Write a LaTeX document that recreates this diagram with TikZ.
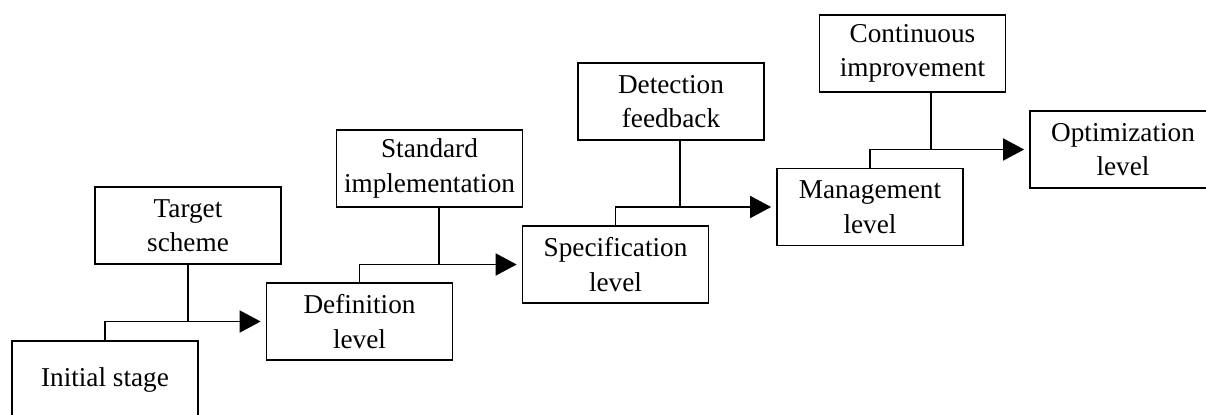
\documentclass[tikz,border=0pt]{standalone}
\usepackage{fontspec}
\setmainfont{Liberation Serif}
\usetikzlibrary{arrows.meta}
\tikzset{
  stagebox/.style={draw, line width=1pt, minimum width=3.72cm, minimum height=1.54cm, inner sep=0pt, align=center},
  stageline/.style={line width=1pt},
  stagearrow/.style={line width=1pt, -{Triangle[length=0.42cm,width=0.44cm]}, shorten >=0.1cm}
}
\begin{document}
\begin{tikzpicture}[x=0.02cm,y=-0.02cm]
                            \useasboundingbox (0,0) rectangle (1206,415);
                            {\fontsize{15.5}{19.6}\selectfont

                            % Drawing box initial
                            \node [stagebox] (initial) at (105,379.5) {Initial stage};%

                            % Drawing box definition
                            \node [stagebox] (definition) at (359.5,321.5) {Definition\\level};%

                            % Drawing box specification
                            \node [stagebox] (specification) at (615.5,264.5) {Specification\\level};%

                            % Drawing box management
                            \node [stagebox] (management) at (870,207) {Management\\level};%

                            % Drawing box optimization
                            \node [stagebox] (optimization) at (1123,149.5) {Optimization\\level};%

                            % Drawing box target
                            \node [stagebox] (target) at (188,225.5) {Target\\scheme};%

                            % Drawing box standard
                            \node [stagebox] (standard) at (429.5,168.5) {Standard\\implementation};%

                            % Drawing box detection
                            \node [stagebox] (detection) at (671,101.5) {Detection\\feedback};%

                            % Drawing box continuous
                            \node [stagebox] (continuous) at (912.5,53.5) {Continuous\\improvement};%

                            % Drawing arrow initial definition
                            \draw [stagearrow] (initial.north) |- (definition.west);%
                            \draw [stageline] (target.south) -- (target.south |- definition.west);%

                            % Drawing arrow definition specification
                            \draw [stagearrow] (definition.north) |- (specification.west);%
                            \draw [stageline] ([xshift=0.19cm]standard.south) -- ([xshift=0.19cm]standard.south |- specification.west);%

                            % Drawing arrow specification management
                            \draw [stagearrow] (specification.north) |- (management.west);%
                            \draw [stageline] ([xshift=0.18cm]detection.south) -- ([xshift=0.18cm]detection.south |- management.west);%

                            % Drawing arrow management optimization
                            \draw [stagearrow] (management.north) |- (optimization.west);%
                            \draw [stageline] ([xshift=0.37cm]continuous.south) -- ([xshift=0.37cm]continuous.south |- optimization.west);%
                            }
\end{tikzpicture}
\end{document}
